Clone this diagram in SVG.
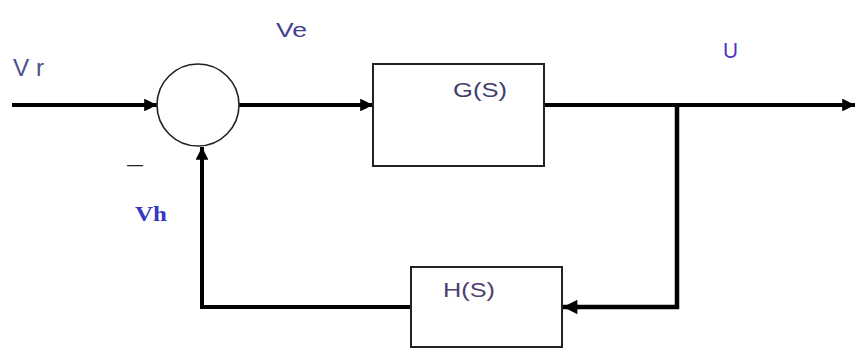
<svg xmlns="http://www.w3.org/2000/svg" width="856" height="350" viewBox="0 0 856 350">
<defs>
<style>
.wire{fill:none;stroke:#000;stroke-width:4;stroke-linejoin:miter}
.box{fill:#fff;stroke:#222;stroke-width:2}
.sum{fill:#fff;stroke:#222;stroke-width:1.6}
.lbl{font-family:"Liberation Sans",Arial,sans-serif}
</style>
<marker id="ah" viewBox="0 0 10 10" refX="10" refY="5" markerWidth="3.5" markerHeight="3.2" orient="auto" markerUnits="strokeWidth">
<path d="M0,0 L10,5 L0,10 z" fill="#000"/>
</marker>
</defs>
<rect width="856" height="350" fill="#fff"/>
<g id="connectors">
<line class="wire" x1="12" y1="105" x2="157" y2="105" marker-end="url(#ah)"/>
<line class="wire" x1="239" y1="105" x2="373" y2="105" marker-end="url(#ah)"/>
<line class="wire" x1="544" y1="105" x2="855" y2="105" marker-end="url(#ah)"/>
<polyline class="wire" points="677,103 677,307 563,307" style="stroke-width:4.5" marker-end="url(#ah)"/>
<polyline class="wire" points="411,307 202,307 202,147" marker-end="url(#ah)"/>
</g>
<g id="sum">
<circle class="sum" cx="198" cy="105" r="41"/>
</g>
<g id="G">
<rect class="box" x="373" y="64" width="171" height="102"/>
<text class="lbl" x="453" y="97" font-size="21" textLength="54" lengthAdjust="spacingAndGlyphs" fill="#404070">G(S)</text>
</g>
<g id="H">
<rect class="box" x="411" y="267" width="151" height="80"/>
<text class="lbl" x="443" y="297" font-size="21" textLength="52" lengthAdjust="spacingAndGlyphs" fill="#504070">H(S)</text>
</g>
<g id="labels">
<text class="lbl" x="13" y="76" font-size="23" textLength="31" lengthAdjust="spacingAndGlyphs" fill="#50508a">V r</text>
<text class="lbl" x="276" y="37" font-size="20" textLength="31" lengthAdjust="spacingAndGlyphs" fill="#404090">Ve</text>
<text class="lbl" x="723" y="58" font-size="22" textLength="15" lengthAdjust="spacingAndGlyphs" fill="#5030c0">U</text>
<text x="127" y="170" font-family="Liberation Sans,Arial,sans-serif" font-size="16" fill="#222">—</text>
<text x="135" y="221" font-family="Liberation Serif,'Times New Roman',serif" font-weight="bold" font-size="21" textLength="32" lengthAdjust="spacingAndGlyphs" fill="#3838c0">Vh</text>
</g>
</svg>
